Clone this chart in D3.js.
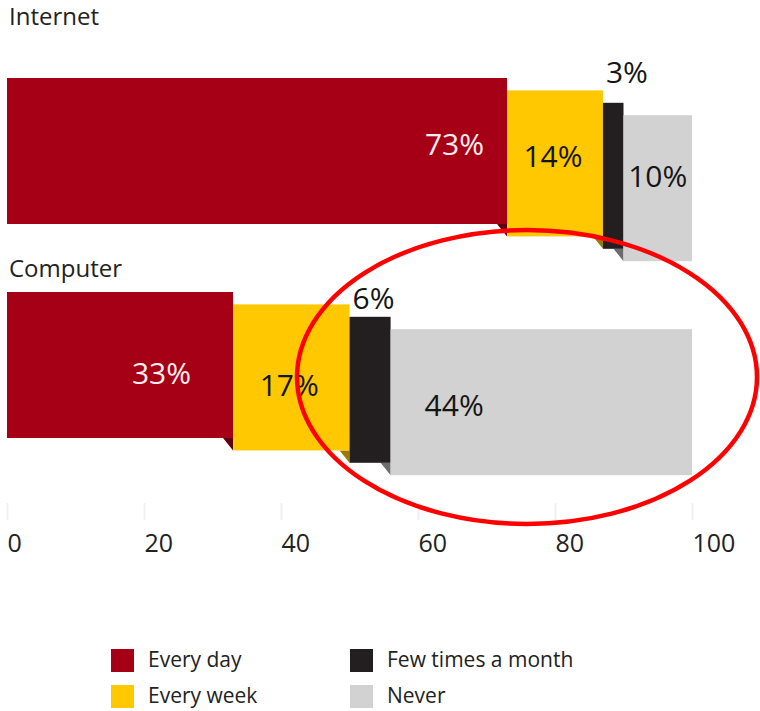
<!DOCTYPE html>
<html>
<head>
<meta charset="utf-8">
<script src="https://cdn.jsdelivr.net/npm/d3@7"></script>
<style>
  html, body { margin: 0; padding: 0; background: #fff; }
  svg text { font-family: "Open Sans", "DejaVu Sans", sans-serif; }
</style>
</head>
<body>
<svg id="chart"></svg>
<script>
// Data
const categories = ["Internet", "Computer"];
const series = ["Every day", "Every week", "Few times a month", "Never"];
const internetValues = [73, 14, 3, 10];
const computerValues = [33, 17, 6, 44];
const tickValues = [0, 20, 40, 60, 80, 100];

const colors = ["#a50016", "#ffc800", "#231f20", "#d2d2d2"];
const foldColors = ["#5e0012", "#9a7a00", "#6d6d6d", "#9a9a9a"];
const labelColors = ["#fdeef0", "#151515", "#151515", "#151515"];

const width = 760, height = 711;
const barH = 146, step = 12.4, fold = 10;

const svg = d3.select("#chart")
    .attr("width", width)
    .attr("height", height);

const x = d3.scaleLinear().domain([0, 100]).range([7, 692]);
const barTop = d3.scalePoint().domain(categories).range([78, 292]);
const titleY = d3.scalePoint().domain(categories).range([25, 277]);
// the original labels sit a little higher in the top bar and lower in the bottom one
const labelShift = d3.scalePoint().domain(categories).range([-7, 8]);
const redPad = d3.scalePoint().domain(categories).range([23, 42]);

// one row per category, stacked by series
const rows = [internetValues, computerValues].map((vals, r) => {
    const row = { category: categories[r] };
    series.forEach((s, i) => row[s] = vals[i]);
    return row;
});
const stacked = d3.stack().keys(series)(rows);

// Category titles
svg.append("g")
    .selectAll("text")
    .data(categories)
    .join("text")
    .attr("x", 9)
    .attr("y", d => titleY(d))
    .attr("font-size", 24)
    .attr("fill", "#222")
    .text(d => d);

// Axis (faint ticks, left aligned labels)
const axis = svg.append("g")
    .attr("transform", "translate(0,503)")
    .call(d3.axisBottom(x).tickValues(tickValues).tickSize(17).tickFormat(d3.format("d")));
axis.select(".domain").remove();
axis.selectAll(".tick line").attr("stroke", "#f0f0f0").attr("stroke-width", 2);
axis.selectAll(".tick text")
    .attr("text-anchor", "start")
    .attr("y", 49)
    .attr("dy", 0)
    .attr("font-size", 25)
    .attr("font-family", "Open Sans, sans-serif")
    .attr("fill", "#222");

// Bars: each segment stepped down a bit, with a small fold under its right end
const segs = [];
stacked.forEach((layer, i) => {
    layer.forEach((d, r) => {
        const top = barTop(categories[r]) + i * step;
        segs.push({ i, cat: categories[r], v: d[1] - d[0], x0: x(d[0]), x1: x(d[1]), top });
    });
});

const bars = svg.append("g");
bars.selectAll("path.fold")
    .data(segs.filter(d => d.i < series.length - 1))
    .join("path")
    .attr("class", "fold")
    .attr("fill", d => foldColors[d.i])
    .attr("d", d => `M${d.x1 - fold},${d.top + barH}L${d.x1},${d.top + barH}L${d.x1},${d.top + barH + step}Z`);

bars.selectAll("rect")
    .data(segs)
    .join("rect")
    .attr("x", d => d.x0)
    .attr("y", d => d.top)
    .attr("width", d => d.x1 - d.x0)
    .attr("height", barH)
    .attr("fill", d => colors[d.i]);

// Value labels
const labels = svg.append("g")
    .selectAll("text")
    .data(segs)
    .join("text")
    .attr("font-size", 30)
    .attr("fill", d => labelColors[d.i])
    .text(d => d.v + "%");

labels.each(function (d) {
    const t = d3.select(this);
    const mid = d.top + barH / 2 + labelShift(d.cat);
    const tw = this.getComputedTextLength();
    if (d.i === 0) {
        t.attr("text-anchor", "end").attr("x", d.x1 - redPad(d.cat)).attr("y", mid + 11);
    } else if (d.i === 1) {
        t.attr("text-anchor", "middle").attr("x", (d.x0 + d.x1) / 2 - 2).attr("y", mid + 11);
    } else if (d.i === 2) {
        t.attr("text-anchor", "start").attr("x", d.x0 + 3).attr("y", d.top - 14 + labelShift(d.cat) * 0.8);
    } else {
        t.attr("text-anchor", "start")
            .attr("x", d.x0 + Math.min(34, (d.x1 - d.x0 - tw) / 2))
            .attr("y", mid + 6);
    }
});

// Hand drawn highlight ring
svg.append("ellipse")
    .attr("cx", 527)
    .attr("cy", 377)
    .attr("rx", 230)
    .attr("ry", 147)
    .attr("fill", "none")
    .attr("stroke", "#ff0000")
    .attr("stroke-width", 4.5);

// Legend
const legend = svg.append("g")
    .selectAll("g")
    .data(series)
    .join("g")
    .attr("transform", (d, i) => `translate(${i < 2 ? 111 : 350},${i % 2 ? 685 : 649})`);
legend.append("rect")
    .attr("width", 23)
    .attr("height", 23)
    .attr("fill", (d, i) => colors[i]);
legend.append("text")
    .attr("x", 37)
    .attr("y", 18)
    .attr("font-size", 21)
    .attr("fill", "#222")
    .text(d => d);
</script>
</body>
</html>
